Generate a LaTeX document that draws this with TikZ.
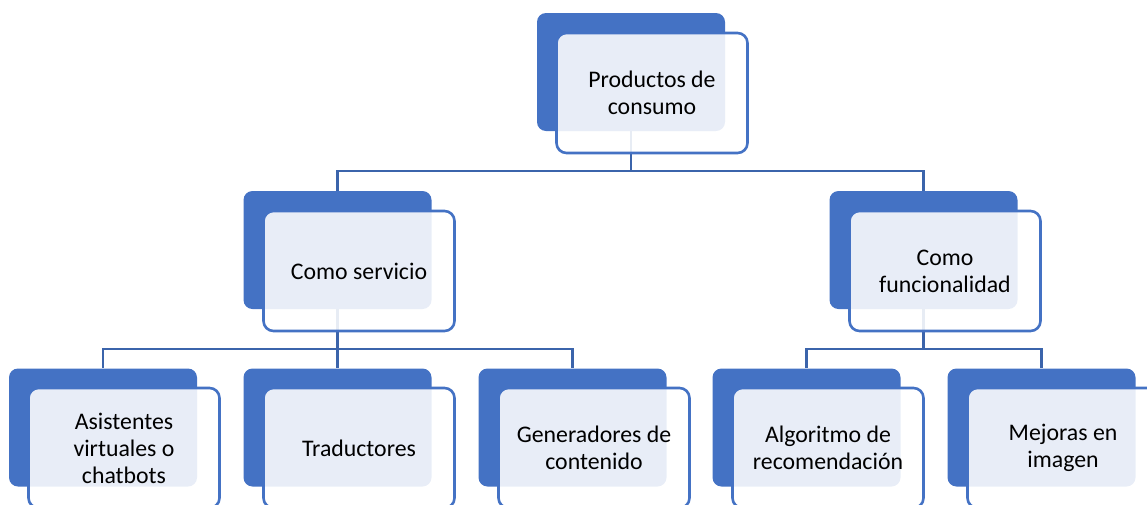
\documentclass[tikz,border=0pt]{standalone}
\usepackage{fontspec}
\setmainfont{Carlito}
\definecolor{accent}{HTML}{4472C4}
\definecolor{linkblue}{HTML}{3B64AB}
\tikzset{
  back/.style={fill=accent, rounded corners=9pt, minimum width=188pt, minimum height=118pt, inner sep=0pt},
  front/.style={draw=accent, line width=2.6pt, fill=white, fill opacity=0.88, text opacity=1,
    rounded corners=10pt, minimum width=191pt, minimum height=120pt, inner sep=2pt,
    align=center, font=\fontsize{23.8}{27}\selectfont},
  link/.style={draw=linkblue, line width=2.8pt}
}
\begin{document}
\begin{tikzpicture}[x=1pt,y=-1pt]
    \useasboundingbox (0,0) rectangle (1147,504);
    \clip (0,0) rectangle (1147,504);
    % back shapes
    \node[back] (top) at (631,72) {};
    \node[back] (serv) at (337.5,250) {};
    \node[back] (func) at (923.5,250) {};
    \node[back] (asis) at (103,427.5) {};
    \node[back] (trad) at (337.5,427.5) {};
    \node[back] (gen) at (572.5,427.5) {};
    \node[back] (algo) at (806.5,427.5) {};
    \node[back] (mej) at (1041.5,427.5) {};
    % connectors
    \coordinate (j1) at (631,171);
    \coordinate (j2) at (337.5,349);
    \coordinate (j3) at (923.5,349);
    \draw[link] (top.south) -- (j1) -| (serv.north);
    \draw[link] (j1) -| (func.north);
    \draw[link] (serv.south) -- (j2) -| (asis.north);
    \draw[link] (j2) -- (trad.north);
    \draw[link] (j2) -| (gen.north);
    \draw[link] (func.south) -- (j3) -| (algo.north);
    \draw[link] (j3) -| (mej.north);
    % front boxes
    \node[front] (topf) at (652,93) {Productos de\\consumo};
    \node[front] (servf) at (359,271) {Como servicio};
    \node[front] (funcf) at (945,271) {Como\\funcionalidad};
    \node[front] (asisf) at (124,448) {Asistentes\\virtuales o\\chatbots};
    \node[front] (tradf) at (359,448) {Traductores};
    \node[front] (genf) at (594,448) {Generadores de\\contenido};
    \node[front] (algof) at (828,448) {Algoritmo de\\recomendación};
    \node[front] (mejf) at (1063,448) {Mejoras en\\imagen};
\end{tikzpicture}
\end{document}
